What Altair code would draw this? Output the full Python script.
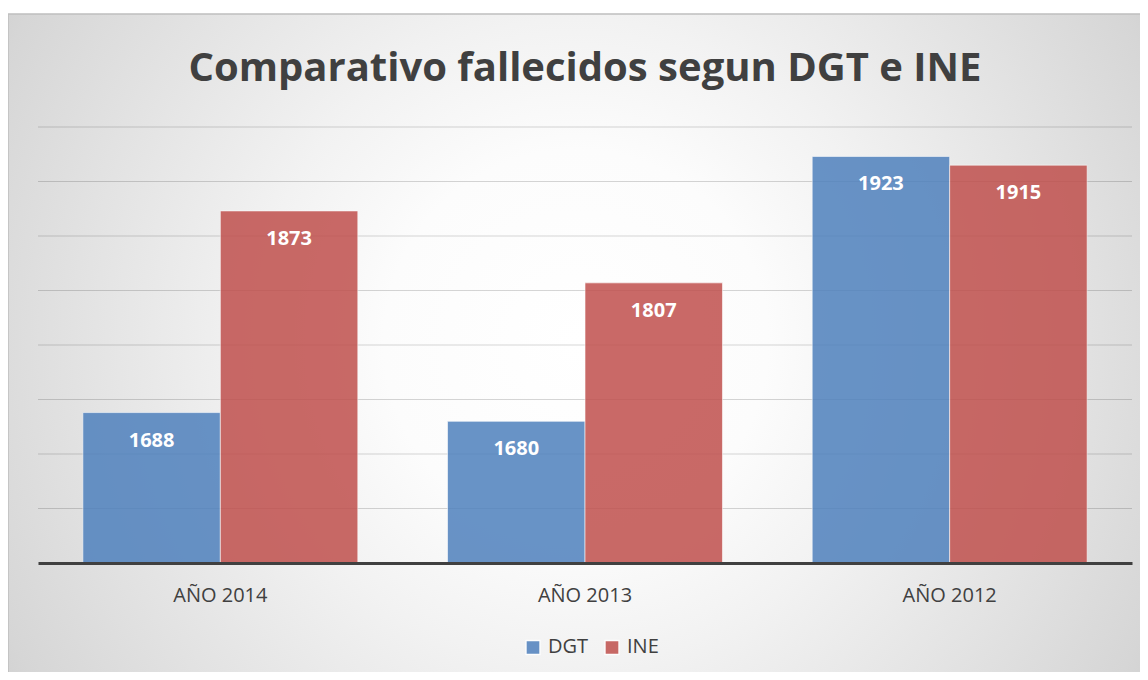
import altair as alt
import pandas as pd

# ---- data ----
years = ["AÑO 2014", "AÑO 2013", "AÑO 2012"]
series = ["DGT", "INE"]
dgt_values = [1688, 1680, 1923]
ine_values = [1873, 1807, 1915]
series_colors = ["#4F81BD", "#C0504D"]
grid_values = [1600, 1650, 1700, 1750, 1800, 1850, 1900, 1950]
y_min, y_max = 1550, 1950
title_text = "Comparativo fallecidos segun DGT e INE"

rows = []
for i, yr in enumerate(years):
    rows.append({"year": yr, "serie": "DGT", "valor": dgt_values[i], "base": y_min})
    rows.append({"year": yr, "serie": "INE", "valor": ine_values[i], "base": y_min})
df = pd.DataFrame(rows)

W, H = 1094, 436
FONT = "Open Sans"
TXT = "#404040"

yscale = alt.Scale(domain=[y_min, y_max], nice=False, zero=False)

gradient = {
    "gradient": "radial",
    "x1": 0.5, "y1": 0.256, "r1": 0,
    "x2": 0.5, "y2": 0.256, "r2": 0.6,
    "stops": [
        {"offset": 0.0, "color": "#ffffff"},
        {"offset": 0.25, "color": "#fcfcfc"},
        {"offset": 0.42, "color": "#f2f2f2"},
        {"offset": 0.83, "color": "#d6d6d6"},
        {"offset": 1.0, "color": "#c4c4c4"},
    ],
}

bg = alt.Chart(pd.DataFrame({"k": [0]})).mark_rect(
    fill=gradient, stroke="#bfbfbf", strokeWidth=1.5
).encode(
    x=alt.value(-30), x2=alt.value(1106), y=alt.value(-113), y2=alt.value(1167)
)

grid = alt.Chart(pd.DataFrame({"v": grid_values})).mark_rule(
    color="#000000", strokeOpacity=0.16, strokeWidth=1.2
).encode(
    y=alt.Y("v:Q", scale=yscale, axis=None),
    x=alt.value(0),
    x2=alt.value(W),
)

xenc = alt.X(
    "year:N",
    sort=years,
    scale=alt.Scale(paddingInner=0.246, paddingOuter=0.123),
    axis=alt.Axis(
        title=None, labelAngle=0, ticks=False, grid=False,
        domainColor=TXT, domainWidth=3,
        labelFont=FONT, labelFontSize=20, labelColor=TXT, labelPadding=22,
        zindex=1,
    ),
)
xoff = alt.XOffset("serie:N", sort=series, scale=alt.Scale(paddingInner=0, paddingOuter=0))

bars = alt.Chart(df).mark_bar(
    opacity=0.85, stroke="white", strokeOpacity=0.6, strokeWidth=1
).encode(
    x=xenc,
    xOffset=xoff,
    y=alt.Y("valor:Q", scale=yscale, axis=None),
    y2=alt.Y2("base:Q"),
    color=alt.Color(
        "serie:N",
        sort=series,
        scale=alt.Scale(domain=series, range=series_colors),
        legend=alt.Legend(
            title=None, orient="none", legendX=485, legendY=510,
            direction="horizontal", symbolType="square", symbolSize=200,
            labelFont=FONT, labelFontSize=20, labelColor=TXT,
            columnPadding=12, labelOffset=5, padding=0, zindex=1,
        ),
    ),
)

labels = alt.Chart(df).mark_text(
    font=FONT, fontSize=20, fontWeight="bold", color="white",
    baseline="middle", dy=28,
).encode(
    x=xenc,
    xOffset=xoff,
    y=alt.Y("valor:Q", scale=yscale, axis=None),
    text=alt.Text("valor:Q", format="d"),
)

chart = alt.layer(bg, grid, bars, labels).properties(
    width=W,
    height=H,
    padding={"left": 30, "top": 119, "right": 8, "bottom": 109},
    autosize=alt.AutoSizeParams(type="none"),
    background="white",
    title=alt.TitleParams(
        title_text, font=FONT, fontSize=40, fontWeight="bold", color=TXT,
        anchor="middle", frame="group", baseline="alphabetic", offset=-108, zindex=1,
    ),
).configure_view(stroke=None)

chart.save("out.html", embed_options={"renderer": "svg", "actions": False})
